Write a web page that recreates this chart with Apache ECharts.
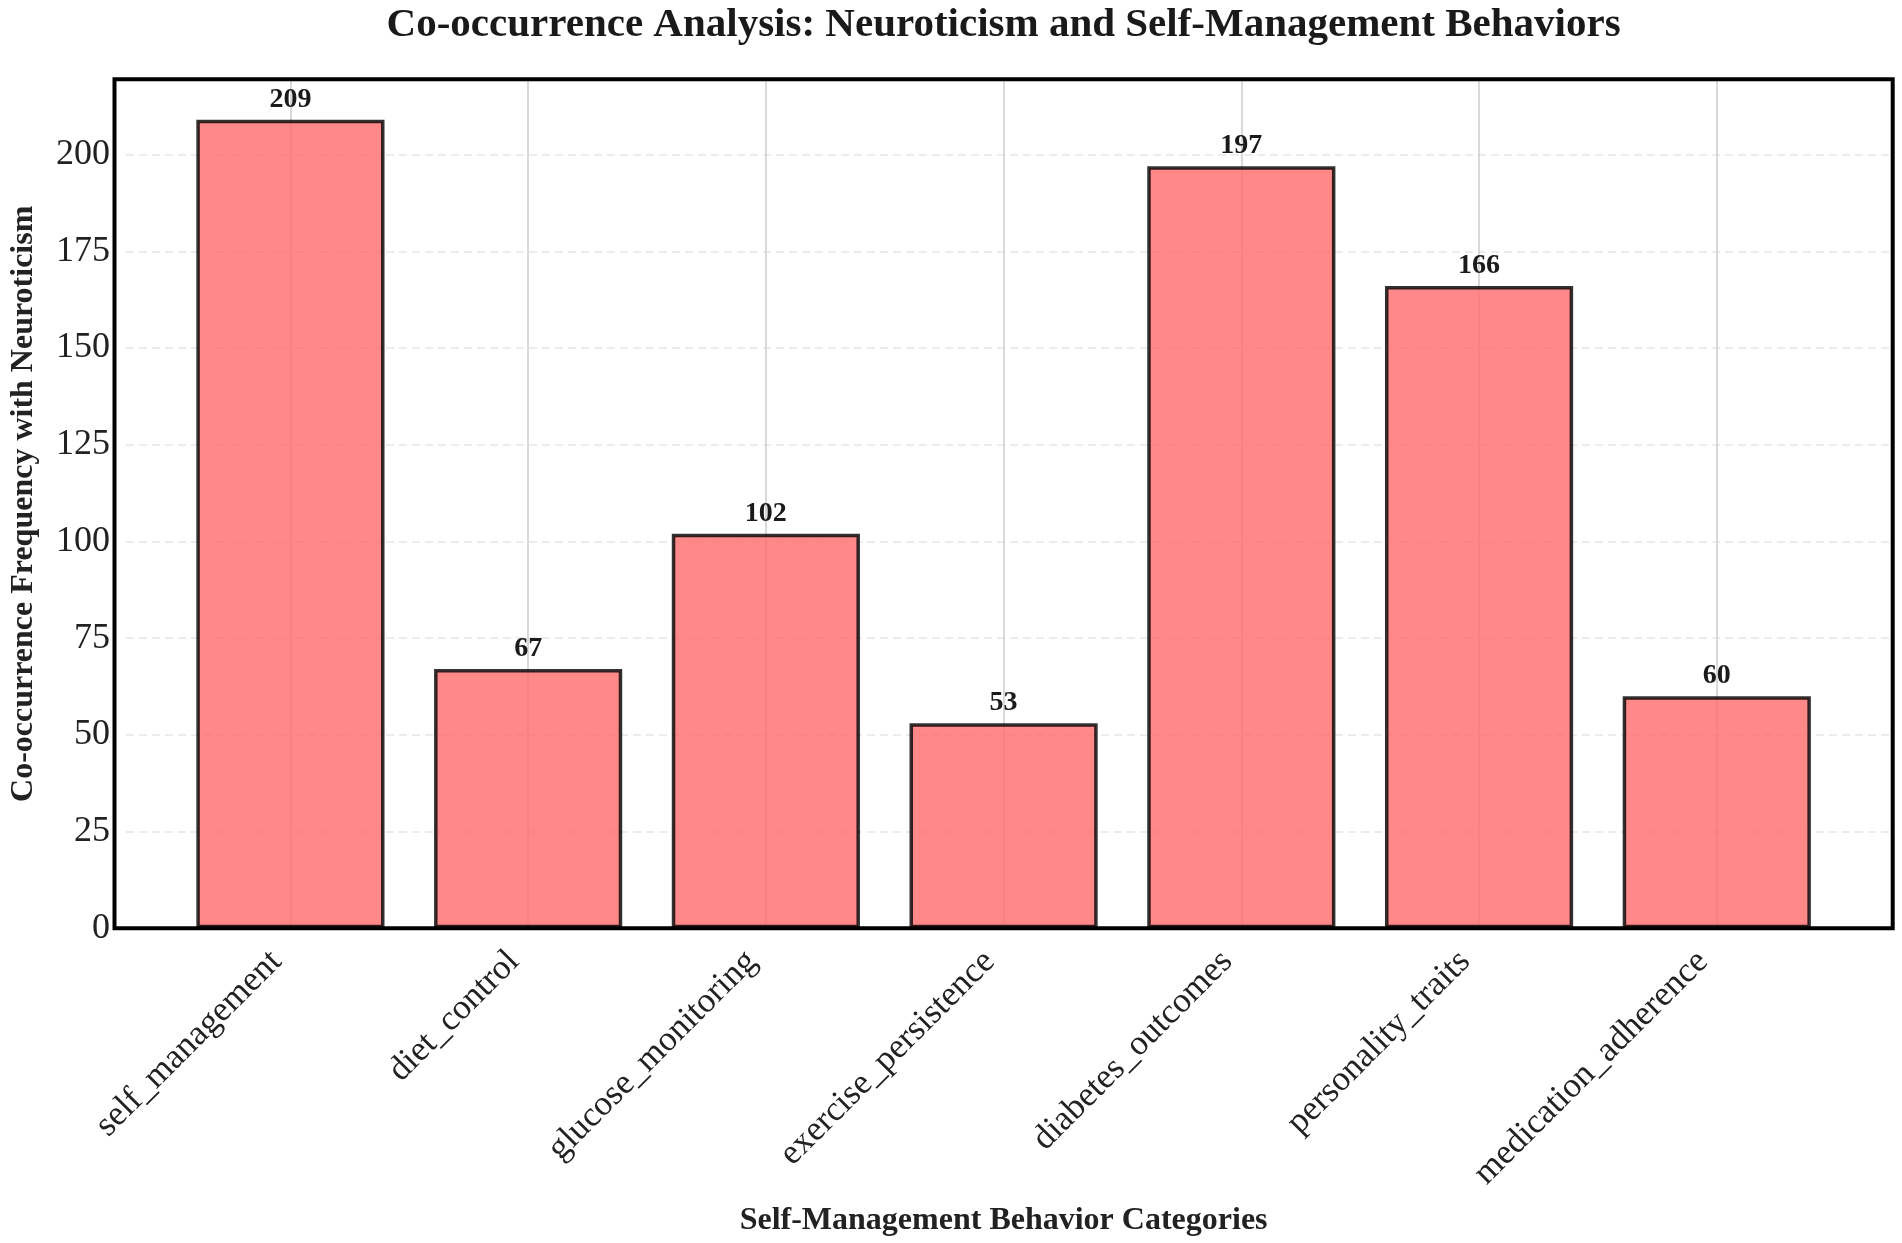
<!DOCTYPE html>
<html>
<head>
<meta charset="utf-8">
<script src="https://cdn.jsdelivr.net/npm/echarts@6/dist/echarts.min.js"></script>
<style>html,body{margin:0;padding:0;background:#fff;}#c{width:1902px;height:1243px;}</style>
</head>
<body>
<div id="c"></div>
<script>
const categories = ['self_management','diet_control','glucose_monitoring','exercise_persistence','diabetes_outcomes','personality_traits','medication_adherence'];
const values = [209, 67, 102, 53, 197, 166, 60];
const yTicks = [0, 25, 50, 75, 100, 125, 150, 175, 200];
const yMax = 219.45;

const FONT = '"Liberation Serif","Times New Roman",serif';
const chart = echarts.init(document.getElementById('c'));
const frame = {left: 114.5, top: 79.3, width: 1778.2, height: 849};
const unit = frame.width / 7.48;
const inner = {left: frame.left + 0.74 * unit, top: frame.top, width: 6 * unit, height: frame.height};

chart.setOption({
  animation: false,
  backgroundColor: '#fff',
  graphic: [{
    type: 'text', z: 100, silent: true,
    x: frame.left + frame.width / 2, y: 5,
    style: {text: 'Co-occurrence Analysis: Neuroticism and Self-Management Behaviors',
      align: 'center', verticalAlign: 'top',
      font: 'bold 41px ' + FONT, fill: '#1a1a1a'}
  }, {
    type: 'rect', z: 100, silent: true,
    shape: {x: frame.left, y: frame.top, width: frame.width, height: frame.height},
    style: {fill: 'none', stroke: '#000', lineWidth: 4}
  }],
  grid: [
    {left: frame.left, top: frame.top, width: frame.width, height: frame.height, show: false},
    {left: inner.left, top: inner.top, width: inner.width, height: inner.height}
  ],
  xAxis: [
    {type: 'value', gridIndex: 0, min: 0, max: 1, show: false, splitLine: {show: false}},
    {type: 'category', gridIndex: 1, data: categories, boundaryGap: false,
     axisLine: {show: false}, axisTick: {show: false},
     axisLabel: {rotate: 45, margin: 14, padding: [0, 20, 0, 0], fontFamily: FONT, fontSize: 35, color: '#222', interval: 0},
     splitLine: {show: true, lineStyle: {color: '#cccccc', width: 1.5, type: 'solid'}},
     name: 'Self-Management Behavior Categories', nameLocation: 'middle', nameGap: 276,
     nameTextStyle: {fontFamily: FONT, fontWeight: 'bold', fontSize: 32, color: '#222'}
    }
  ],
  yAxis: [
    {type: 'value', gridIndex: 0, min: 0, max: yMax, interval: 25,
     axisLine: {show: false}, axisTick: {show: false},
     axisLabel: {margin: 16, fontFamily: FONT, fontSize: 36, color: '#222', showMaxLabel: false,
       formatter: v => (yTicks.indexOf(v) >= 0 ? String(v) : '')},
     splitLine: {show: true, showMinLine: false, showMaxLine: false, lineStyle: {color: '#e6e6e6', width: 1.5, type: [8, 5]}},
     name: 'Co-occurrence Frequency with Neuroticism', nameLocation: 'middle', nameGap: 86,
     nameTextStyle: {fontFamily: FONT, fontWeight: 'bold', fontSize: 32, color: '#222'}
    },
    {type: 'value', gridIndex: 1, min: 0, max: yMax, show: false, splitLine: {show: false}}
  ],
  series: [{
    type: 'bar', xAxisIndex: 1, yAxisIndex: 1,
    data: values, barWidth: 0.8 * unit - 2, clip: false,
    itemStyle: {color: 'rgba(255,107,107,0.8)', borderColor: 'rgba(0,0,0,0.8)', borderWidth: 3.5},
    label: {show: true, position: 'top', distance: 6, fontFamily: FONT, fontWeight: 'bold', fontSize: 28, color: '#1a1a1a'}
  }]
});
</script>
</body>
</html>
